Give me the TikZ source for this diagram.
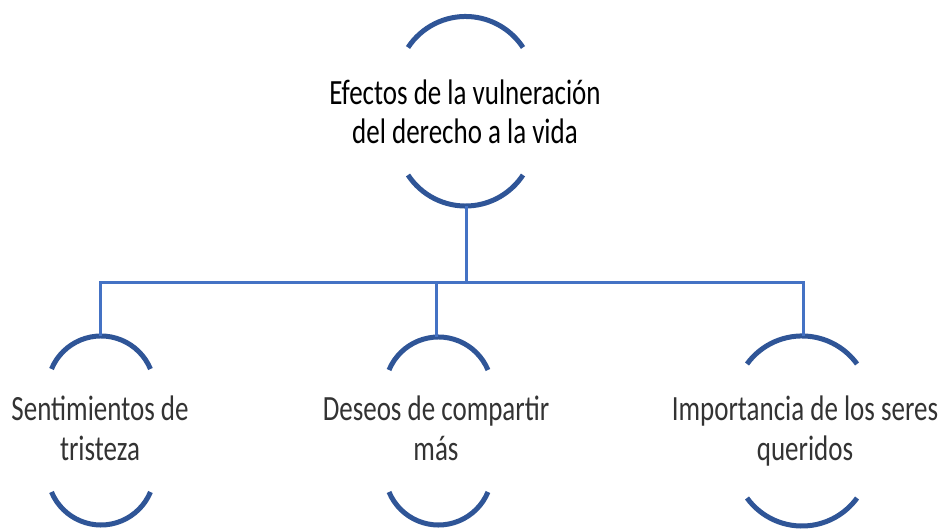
\documentclass[tikz,border=0pt]{standalone}
\usepackage{fontspec}
\setmainfont{Carlito}
\newfontfamily\topfont{Carlito}[FakeStretch=0.76, WordSpace=0.5]
\newfontfamily\subfont{Carlito}[FakeStretch=0.76]
\definecolor{arcblue}{HTML}{2F5597}
\definecolor{linkblue}{HTML}{4472C4}
\definecolor{subtext}{HTML}{333333}
\tikzset{
  arcline/.style={draw=arcblue, line width=5pt, line cap=butt},
  linkline/.style={draw=linkblue, line width=3pt},
  toptext/.style={font=\topfont\fontsize{35.5}{39}\selectfont, text=black, align=center, inner sep=0pt, anchor=base},
  subtxt/.style={font=\subfont\fontsize{35.5}{40}\selectfont, text=subtext, align=center, inner sep=0pt, anchor=base},
}
\begin{document}
\begin{tikzpicture}[x=1pt,y=1pt]
\useasboundingbox (0,0) rectangle (939,529);
% top node (anchor = baseline of last line)
\node[toptext] (tTop) at (465,385) {Efectos de la vulneración\\del derecho a la vida};
\draw[arcline] (408,481.5) arc[start angle=146.7, end angle=33.3, radius=68.8];
\draw[arcline] (408,354) arc[start angle=213.3, end angle=326.7, radius=68.8];
\coordinate (topBottom) at (466,323);
% child nodes
\node[subtxt] (tA) at (100,68) {Sentimientos de\\tristeza};
\draw[arcline] (51.5,160) arc[start angle=157.4, end angle=22.6, radius=53.6];
\draw[arcline] (51.5,37) arc[start angle=202.6, end angle=337.4, radius=53.6];
\coordinate (aTop) at (100,193);
\node[subtxt] (tB) at (436,68) {Deseos de compartir\\más};
\draw[arcline] (389,159) arc[start angle=157.4, end angle=22.6, radius=53.6];
\draw[arcline] (389,37) arc[start angle=202.6, end angle=337.4, radius=53.6];
\coordinate (bTop) at (436,192);
\node[subtxt] (tC) at (805,68) {Importancia de los seres\\queridos};
\draw[arcline] (747,165) arc[start angle=144, end angle=36, radius=68.0];
\draw[arcline] (747,31) arc[start angle=216, end angle=324, radius=68.0];
\coordinate (cTop) at (803,193);
% connectors
\coordinate (bus) at (466,246);
\draw[linkline] (topBottom) -- (bus);
\draw[linkline] (bus) -| (aTop);
\draw[linkline] (bus) -| (bTop);
\draw[linkline] (bus) -| (cTop);
\end{tikzpicture}
\end{document}
